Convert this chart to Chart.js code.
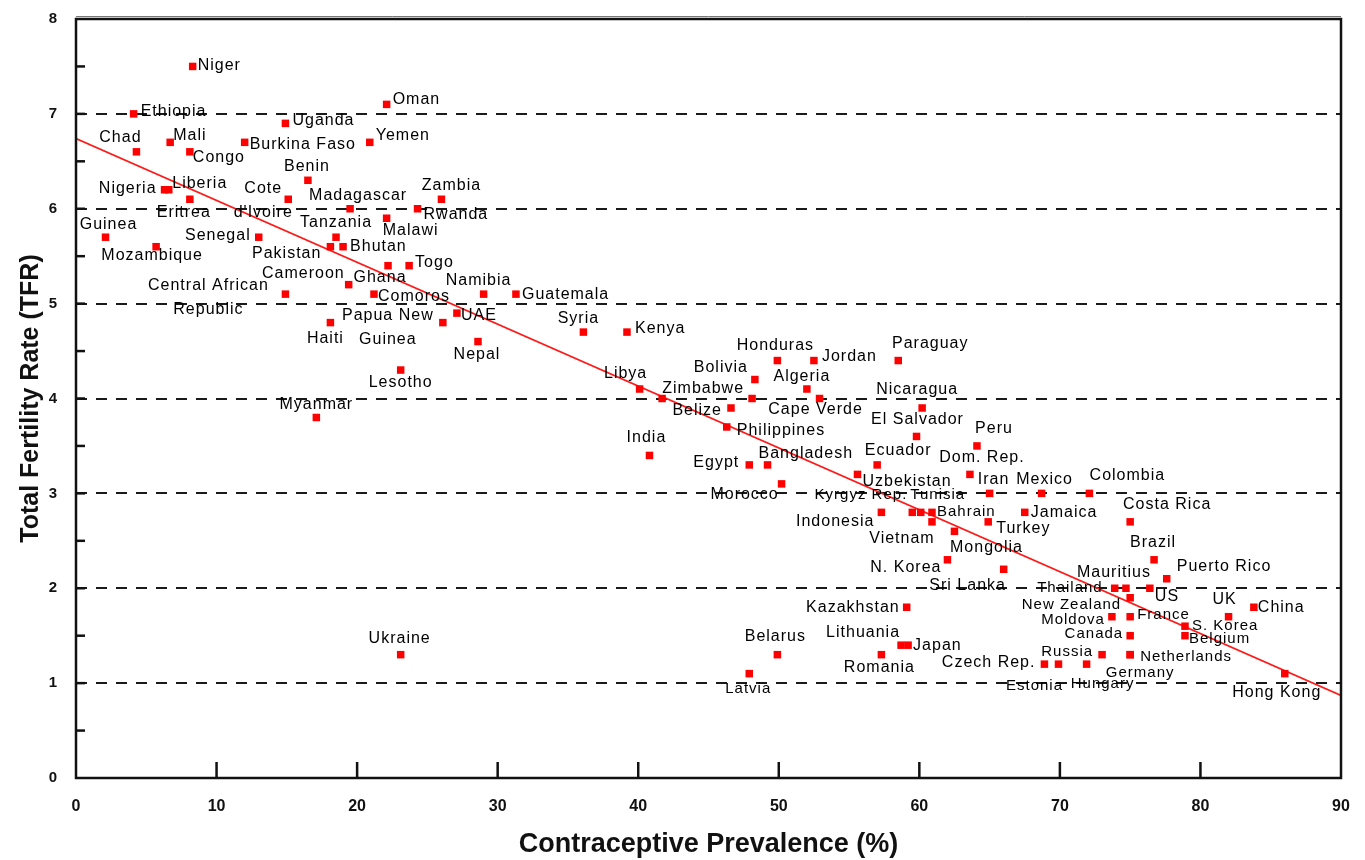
<!DOCTYPE html>
<html><head><meta charset="utf-8">
<script src="https://cdn.jsdelivr.net/npm/chart.js@4"></script>
<style>html,body{margin:0;padding:0;background:#fff;overflow:hidden}</style>
</head><body>
<canvas id="c" width="1365" height="860"></canvas>
<script>
// ---- data ----
const countries = [
 "Niger","Ethiopia","Oman","Uganda","Chad","Mali","Congo","Burkina Faso","Yemen","Benin",
 "Nigeria","Liberia","Eritrea","Cote\nd'Ivoire","Madagascar","Zambia","Rwanda","Malawi","Tanzania","Guinea",
 "Senegal","Mozambique","Pakistan","Bhutan","Ghana","Togo","Cameroon","Central African\nRepublic","Comoros","Namibia",
 "Guatemala","UAE","Papua New\nGuinea","Haiti","Nepal","Lesotho","Myanmar","Syria","Kenya","Honduras",
 "Jordan","Paraguay","Bolivia","Algeria","Libya","","Zimbabwe","Belize","Cape Verde","Philippines",
 "India","Egypt","Bangladesh","Morocco","Ecuador","Uzbekistan","El Salvador","Nicaragua","Peru","Dom. Rep.",
 "Iran","Mexico","Colombia","Costa Rica","Brazil","Jamaica","Turkey","Kyrgyz Rep.","Tunisia","Indonesia",
 "Bahrain","Vietnam","Mongolia","N. Korea","Sri Lanka","Kazakhstan","Lithuania","Japan","Romania","Belarus",
 "Latvia","Ukraine","Czech Rep.","Estonia","Hungary","Russia","Netherlands","Germany","Thailand","Mauritius",
 "US","New Zealand","Moldova","France","Canada","S. Korea","Belgium","UK","China","Hong Kong",
 "Puerto Rico"
];
const prevalence = [
 8.3,4.1,22.1,14.9,4.3,6.7,8.1,12.0,20.9,16.5,
 6.3,6.6,8.1,15.1,19.5,26.0,24.3,22.1,18.5,2.1,
 13.0,5.7,18.1,19.0,22.2,23.7,19.4,14.9,21.2,29.0,
 31.3,27.1,26.1,18.1,28.6,23.1,17.1,36.1,39.2,49.9,
 52.5,58.5,48.3,52.0,40.1,41.7,48.1,46.6,52.9,46.3,
 40.8,47.9,49.2,50.2,57.0,55.6,59.8,60.2,64.1,63.6,
 65.0,68.7,72.1,75.0,76.7,67.5,64.9,59.5,60.1,57.3,
 60.9,60.9,62.5,62.0,66.0,59.1,58.7,59.2,57.3,49.9,
 47.9,23.1,68.9,69.9,71.9,73.0,75.0,75.0,73.9,74.7,
 76.4,75.0,73.7,75.0,75.0,78.9,78.9,82.0,83.8,86.0,
 77.6
];
const fertility = [
 7.5,7.0,7.1,6.9,6.6,6.7,6.6,6.7,6.7,6.3,
 6.2,6.2,6.1,6.1,6.0,6.1,6.0,5.9,5.7,5.7,
 5.7,5.6,5.6,5.6,5.4,5.4,5.2,5.1,5.1,5.1,
 5.1,4.9,4.8,4.8,4.6,4.3,3.8,4.7,4.7,4.4,
 4.4,4.4,4.2,4.1,4.1,4.0,4.0,3.9,4.0,3.7,
 3.4,3.3,3.3,3.1,3.3,3.2,3.6,3.9,3.5,3.2,
 3.0,3.0,3.0,2.7,2.3,2.8,2.7,2.8,2.8,2.8,
 2.8,2.7,2.6,2.3,2.2,1.8,1.4,1.4,1.3,1.3,
 1.1,1.3,1.2,1.2,1.2,1.3,1.3,1.3,2.0,2.0,
 2.0,1.9,1.7,1.7,1.5,1.6,1.5,1.7,1.8,1.1,
 2.1
];
const fitPrevalence = [0, 90];
const fitFertility = [6.74, 0.87];
const xTicks = [0,10,20,30,40,50,60,70,80,90];
const yTicks = [0,1,2,3,4,5,6,7,8];

// ---- label placement (align, dx, dy in px from the marker) ----
const labelPlacement = [
 ['l',5,-1],['l',7,-2],['l',6,-5],['l',7,-3],['c',-16,-14],['l',3,-7],['l',3,6],['l',5,2],['l',6,-7],['c',-1,-14],
 ['r',-8,-1],['c',31,-6],['c',-6,13],['c',-25,1],['c',8,-13],['c',10,-14],['l',6,6],['c',24,12],['c',0,-15],['c',3,-13],
 ['r',-8,-2],['c',-4,9],['r',-9,7],['l',7,0],['c',-8,12],['l',6,-3],['r',-4,-11],['c',-77,3.5],['l',4,2],['c',-5,-14],
 ['l',6,0],['l',4,2],['c',-55,4.5],['c',-5,16],['c',-1,13],['c',0,13],['c',0,-13],['c',-5,-13],['l',8,-3],['c',-2,-15],
 ['l',8,-4],['c',32,-17],['r',-7,-12],['c',-5,-12],['c',-14,-15],['c',0,0],['r',-8,-10],['r',-9,3],['c',-4,11],['l',10,4],
 ['c',-3,-18],['r',-10,-2],['l',-9,-11],['c',-37,11],['c',21,-14],['l',5,7],['c',1,-17],['c',-5,-18],['c',17,-17],['c',12,-17],
 ['c',4,-14],['c',3,-14],['c',38,-18],['c',37,-17],['c',-1,-17],['l',6,0],['l',8,7],['r',-5,-17],['c',17,-17],['r',-7,9],
 ['l',5,0],['c',-30,17],['c',32,16],['r',-6,8],['c',-36,16],['r',-7,0],['c',-38,-13],['l',5,0],['c',-2,13],['c',-2,-18],
 ['c',-1,15],['c',-1,-16],['r',-9,-2],['c',-24,22],['c',16,20],['r',-9,-3],['l',10,2],['c',10,18],['r',-12,0],['c',-12,-16],
 ['l',5,8],['r',-9,7],['r',-7,3],['l',7,-2],['r',-7,-2],['l',7,0],['l',4,3],['c',-4,-17],['l',4,0],['c',-8,19],
 ['l',10,-12]
];
const smallLabels = new Set(["Kyrgyz Rep.","Tunisia","Bahrain","Thailand","New Zealand","Moldova","France","Canada",
 "Russia","Netherlands","S. Korea","Belgium","Germany","Hungary","Estonia","Latvia"]);

const points = prevalence.map((x,i)=>({x, y: fertility[i]}));
const fitLine = fitPrevalence.map((x,i)=>({x, y: fitFertility[i]}));
const FONT = '"Liberation Sans", Arial, sans-serif';

const labelPlugin = {
  id:'pointLabels',
  afterDatasetsDraw(chart){
    const ctx = chart.ctx;
    const meta = chart.getDatasetMeta(0);
    ctx.save();
    ctx.fillStyle = '#000';
    ctx.textBaseline = 'middle';
    meta.data.forEach((pt,i)=>{
      const name = countries[i];
      if(!name) return;
      const [al,dx,dy] = labelPlacement[i];
      ctx.font = (smallLabels.has(name) ? '15px ' : '16px ') + FONT;
      ctx.letterSpacing = '1px';
      ctx.textAlign = al==='l' ? 'left' : (al==='r' ? 'right' : 'center');
      const lines = name.split('\n');
      const lh = 24;
      lines.forEach((ln,k)=>{
        ctx.fillText(ln, pt.x+dx, pt.y+dy+(k-(lines.length-1)/2)*lh);
      });
    });
    ctx.restore();
  }
};

const framePlugin = {
  id:'frame',
  afterDraw(chart){
    const {ctx, chartArea:a, scales} = chart;
    ctx.save();
    ctx.strokeStyle = '#111';
    ctx.lineWidth = 2.5;
    const xs = scales.x, ys = scales.y;
    xs.ticks.forEach(t=>{
      if(t.value<=xs.min || t.value>=xs.max) return;
      const px = xs.getPixelForValue(t.value);
      ctx.beginPath(); ctx.moveTo(px, a.bottom); ctx.lineTo(px, a.bottom-16); ctx.stroke();
    });
    ys.ticks.forEach(t=>{
      [t.value, t.value+0.5].forEach(v=>{
        if(v<=ys.min || v>=ys.max) return;
        const py = ys.getPixelForValue(v);
        ctx.beginPath(); ctx.moveTo(a.left, py); ctx.lineTo(a.left+9, py); ctx.stroke();
      });
    });
    ctx.lineWidth = 2.5;
    ctx.strokeRect(a.left, a.top, a.right-a.left, a.bottom-a.top);
    ctx.lineWidth = 1;
    ctx.strokeStyle = '#777';
    ctx.beginPath(); ctx.moveTo(a.left, a.top-2.5); ctx.lineTo(a.right, a.top-2.5); ctx.stroke();
    ctx.restore();
  }
};

new Chart(document.getElementById('c'), {
  type:'scatter',
  data:{
    datasets:[
      { label:'Countries', data: points, backgroundColor:'#ff0000', borderWidth:0,
        pointStyle:'rect', pointRadius:5.3, pointHoverRadius:5.3 },
      { label:'Trend', type:'line', data: fitLine, borderColor:'#ff1a1a', borderWidth:1.6,
        pointRadius:0, fill:false, tension:0 }
    ]
  },
  options:{
    responsive:false, devicePixelRatio:1, animation:false,
    layout:{ padding:{ top:19, right:24, left:0, bottom:0 } },
    plugins:{ legend:{display:false}, tooltip:{enabled:false} },
    scales:{
      x:{
        type:'linear', min:0, max:90,
        afterBuildTicks: s => { s.ticks = xTicks.map(v=>({value:v})); },
        afterFit: s => { s.height = 82; },
        grid:{ display:true, drawOnChartArea:false, drawTicks:true, tickLength:19,
          tickColor:'rgba(0,0,0,0)', color:'rgba(0,0,0,0)' },
        border:{ display:false },
        ticks:{ color:'#111', padding:0, font:{ family:FONT, size:16, weight:'bold' }, maxRotation:0 },
        title:{ display:true, text:'Contraceptive Prevalence (%)', color:'#111',
          font:{ family:FONT, size:27, weight:'bold' }, padding:{ top:0, bottom:-1 } }
      },
      y:{
        type:'linear', min:0, max:8,
        afterBuildTicks: s => { s.ticks = yTicks.map(v=>({value:v})); },
        afterFit: s => { s.width = 76; },
        grid:{ drawTicks:true, tickLength:19, tickColor:'rgba(0,0,0,0)', lineWidth:2,
          color: c => (c.tick && c.tick.value>=1 && c.tick.value<=7) ? '#1a1a1a' : 'rgba(0,0,0,0)' },
        border:{ display:false, dash:[11,9] },
        ticks:{ color:'#111', padding:0, font:{ family:FONT, size:15, weight:'bold' } },
        title:{ display:true, text:'Total Fertility Rate (TFR)', color:'#111',
          font:{ family:FONT, size:25, weight:'bold' }, padding:{ top:16, bottom:0 } }
      }
    }
  },
  plugins:[labelPlugin, framePlugin]
});
</script>
</body></html>
